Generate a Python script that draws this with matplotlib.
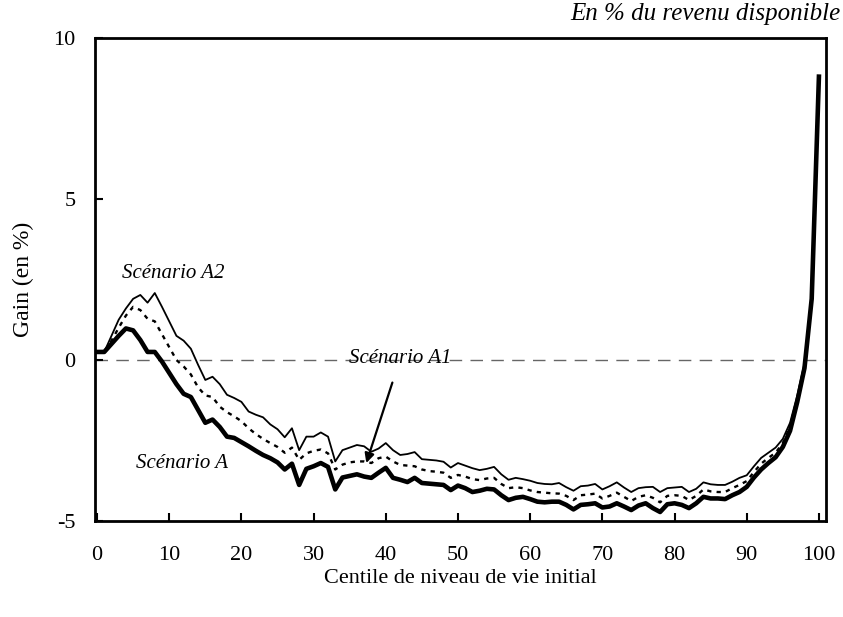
import matplotlib
matplotlib.use('Agg')
import matplotlib.pyplot as plt
import numpy as np

# centiles 0..100
centiles = list(range(0, 101))

# Scénario A (trait épais)
gain_a = [0.25, 0.25, 0.5, 0.75, 0.98, 0.92, 0.62, 0.25, 0.25, -0.05,
          -0.4, -0.75, -1.05, -1.15, -1.55, -1.95, -1.85, -2.08, -2.38, -2.42,
          -2.55, -2.68, -2.82, -2.95, -3.05, -3.18, -3.4, -3.22, -3.88, -3.38,
          -3.3, -3.2, -3.32, -4.02, -3.65, -3.6, -3.55, -3.62, -3.66, -3.5,
          -3.35, -3.66, -3.72, -3.79, -3.66, -3.82, -3.84, -3.86, -3.88, -4.04,
          -3.9, -3.98, -4.1, -4.06, -4.0, -4.02, -4.2, -4.35, -4.28, -4.25,
          -4.32, -4.4, -4.42, -4.4, -4.4, -4.5, -4.64, -4.5, -4.48, -4.45,
          -4.58, -4.55, -4.45, -4.55, -4.66, -4.52, -4.45, -4.6, -4.72, -4.48,
          -4.45, -4.5, -4.6, -4.45, -4.25, -4.3, -4.3, -4.32, -4.2, -4.1,
          -3.94, -3.65, -3.4, -3.2, -3.02, -2.7, -2.2, -1.3, -0.25, 1.9,
          8.8]

# Scénario A1 (pointillés)
gain_a1 = [0.25, 0.25, 0.6, 1.0, 1.38, 1.65, 1.55, 1.28, 1.2, 0.8,
           0.4, 0.0, -0.2, -0.45, -0.85, -1.1, -1.15, -1.45, -1.62, -1.75,
           -1.9, -2.12, -2.3, -2.45, -2.58, -2.7, -2.88, -2.72, -3.1, -2.9,
           -2.82, -2.78, -2.9, -3.4, -3.25, -3.18, -3.15, -3.15, -3.2, -3.05,
           -3.0, -3.15, -3.26, -3.28, -3.3, -3.4, -3.45, -3.47, -3.5, -3.66,
           -3.57, -3.62, -3.7, -3.73, -3.68, -3.66, -3.85, -3.98, -3.95, -3.98,
           -4.05, -4.1, -4.12, -4.14, -4.15, -4.22, -4.35, -4.2, -4.18, -4.15,
           -4.3, -4.22, -4.12, -4.25, -4.38, -4.25, -4.2, -4.28, -4.42, -4.22,
           -4.2, -4.22, -4.35, -4.22, -4.02, -4.08, -4.1, -4.1, -3.98, -3.88,
           -3.76, -3.48, -3.22, -3.04, -2.88, -2.58, -2.08, -1.2, -0.18, 1.95,
           8.8]

# Scénario A2 (trait fin)
gain_a2 = [0.25, 0.25, 0.75, 1.25, 1.6, 1.9, 2.02, 1.78, 2.08, 1.65,
           1.2, 0.75, 0.6, 0.35, -0.15, -0.62, -0.52, -0.75, -1.08, -1.18,
           -1.3, -1.6, -1.7, -1.78, -2.0, -2.15, -2.4, -2.12, -2.8, -2.38,
           -2.38, -2.25, -2.38, -3.15, -2.8, -2.72, -2.64, -2.68, -2.85, -2.75,
           -2.58, -2.8, -2.95, -2.92, -2.86, -3.08, -3.1, -3.12, -3.16, -3.34,
           -3.2, -3.28, -3.36, -3.42, -3.38, -3.32, -3.55, -3.72, -3.66, -3.7,
           -3.75, -3.82, -3.85, -3.86, -3.82, -3.95, -4.06, -3.92, -3.9, -3.85,
           -4.02, -3.92, -3.8, -3.96, -4.1, -3.98, -3.95, -3.94, -4.1, -3.98,
           -3.96, -3.94, -4.1, -4.0, -3.8, -3.86, -3.88, -3.88, -3.78, -3.66,
           -3.58, -3.3, -3.04, -2.88, -2.72, -2.45, -1.95, -1.1, -0.1, 2.0,
           8.8]

xticks = list(range(0, 101, 10))
yticks = [-5, 0, 5, 10]

plt.rcParams['font.family'] = ['Liberation Serif', 'DejaVu Serif']
plt.rcParams['axes.unicode_minus'] = False

fig = plt.figure(figsize=(8.43, 6.17), dpi=100)
ax = fig.add_axes([0.1127, 0.1556, 0.8673, 0.7828])

ax.axhline(0, color='#666666', lw=1.0, dashes=(9, 6), zorder=1)

ax.plot(centiles, gain_a2, color='black', lw=1.3, zorder=3)
ax.plot(centiles, gain_a1, color='black', lw=1.7, dashes=(1.8, 2.2), zorder=3)
ax.plot(centiles, gain_a, color='black', lw=3.3, zorder=4)

ax.set_xlim(-0.28, 101)
ax.set_ylim(-5, 10)
ax.set_xticks(xticks)
ax.set_yticks(yticks)
ax.tick_params(direction='in', length=6, width=1.5, labelsize=16)
ax.tick_params(axis='x', pad=18)
ax.tick_params(axis='y', pad=14)
for s in ax.spines.values():
    s.set_linewidth(2.0)

ax.set_xlabel('Centile de niveau de vie initial', fontsize=16, labelpad=3)
ax.set_ylabel('Gain (en %)', fontsize=17, labelpad=14)

ax.text(10.5, 2.7, 'Scénario A2', style='italic', fontsize=15, ha='center', va='center')
ax.text(11.8, -3.2, 'Scénario A', style='italic', fontsize=15, ha='center', va='center')
ax.annotate('Scénario A1', xy=(37.3, -3.2), xytext=(42.0, 0.05),
            style='italic', fontsize=15, ha='center', va='center',
            arrowprops=dict(arrowstyle='-|>', color='black', lw=1.6,
                            mutation_scale=14, shrinkA=9, shrinkB=0))

fig.text(0.997, 0.995, 'En % du revenu disponible', style='italic', fontsize=18,
         ha='right', va='top')

fig.savefig('out.png', dpi=100)
plt.close()
